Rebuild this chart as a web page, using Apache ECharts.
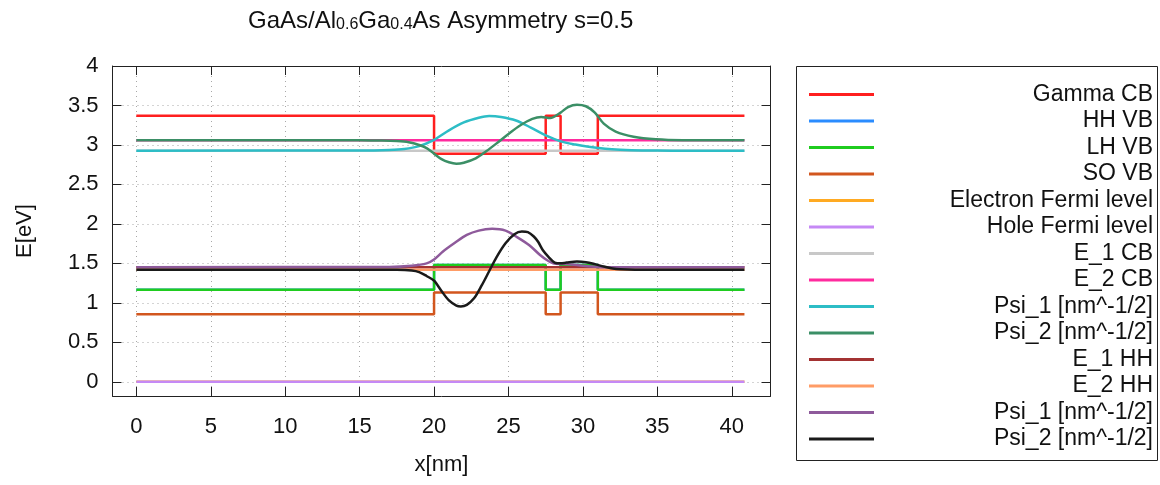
<!DOCTYPE html>
<html>
<head>
<meta charset="utf-8">
<script src="https://cdn.jsdelivr.net/npm/echarts@6/dist/echarts.min.js"></script>
<style>
html,body{margin:0;padding:0;background:#fff;}
#chart{width:1160px;height:485px;}
</style>
</head>
<body>
<div id="chart"></div>
<script>
// ---------- data ----------
const xStart = 0;
const xEnd = 40.85;
const interfaces = [20, 27.5, 28.5, 31];           // barrier|well|barrier|well|barrier
const bandNames = ['Gamma CB', 'HH VB', 'LH VB', 'SO VB'];
const bandBarrier = [3.37, 1.165, 1.165, 0.855];
const bandWell = [2.89, 1.48, 1.48, 1.13];

const levelNamesA = ['Electron Fermi level', 'Hole Fermi level', 'E_1 CB', 'E_2 CB'];
const levelValuesA = [0.0, 0.0, 2.928, 3.058];
const levelNamesB = ['E_1 HH', 'E_2 HH'];
const levelValuesB = [1.452, 1.42];

const psi1CBx = [0, 15, 17, 18, 19, 20, 21, 22, 23, 23.7, 24.5, 25.5, 26.5, 27.5, 28.5, 29.5, 30.5, 31.5, 32.5, 34, 36, 40.85];
const psi1CBy = [2.928, 2.929, 2.936, 2.948, 2.985, 3.065, 3.185, 3.285, 3.345, 3.367, 3.355, 3.31, 3.22, 3.12, 3.045, 3.005, 2.975, 2.952, 2.94, 2.931, 2.928, 2.928];

const psi2CBx = [0, 15, 16.5, 17.5, 18.3, 19, 19.5, 20, 20.5, 21, 21.5, 22, 22.8, 23.5, 24.2, 25, 25.8, 26.6, 27.2, 27.8, 28.5, 29, 29.6, 30.2, 30.8, 31.4, 32.2, 33.4, 34.9, 36.7, 40.85];
const psi2CBy = [3.058, 3.058, 3.056, 3.05, 3.035, 3.0, 2.96, 2.89, 2.82, 2.78, 2.762, 2.775, 2.83, 2.92, 3.02, 3.14, 3.25, 3.33, 3.355, 3.34, 3.41, 3.48, 3.51, 3.49, 3.41, 3.27, 3.17, 3.105, 3.072, 3.06, 3.058];

const psi1HHx = [0, 17, 18.5, 19.5, 20, 20.6, 21.4, 22.2, 23, 23.9, 24.8, 25.6, 26.4, 27.1, 27.6, 28, 28.5, 29, 30, 31, 32, 40.85];
const psi1HHy = [1.452, 1.455, 1.47, 1.50, 1.55, 1.65, 1.76, 1.86, 1.915, 1.937, 1.915, 1.83, 1.73, 1.61, 1.54, 1.50, 1.492, 1.49, 1.47, 1.455, 1.452, 1.452];

const psi2HHx = [0, 17.5, 18.5, 19, 19.5, 20, 20.5, 21, 21.5, 21.8, 22.2, 22.7, 23.2, 23.7, 24.2, 24.8, 25.4, 25.9, 26.3, 26.7, 27.0, 27.3, 27.7, 28.1, 28.5, 28.9, 29.6, 30.2, 30.8, 31.4, 32.0, 32.5, 33.5, 40.85];
const psi2HHy = [1.42, 1.418, 1.41, 1.39, 1.34, 1.28, 1.15, 1.03, 0.965, 0.955, 0.975, 1.06, 1.22, 1.40, 1.58, 1.755, 1.87, 1.903, 1.895, 1.84, 1.77, 1.67, 1.58, 1.51, 1.5, 1.51, 1.523, 1.515, 1.49, 1.46, 1.435, 1.425, 1.42, 1.42];

const xTicks = [0, 5, 10, 15, 20, 25, 30, 35, 40];
const yTicks = [0, 0.5, 1, 1.5, 2, 2.5, 3, 3.5, 4];

// ---------- styles ----------
const colors = {
  'Gamma CB': '#ff1f1f',
  'HH VB': '#2a8cff',
  'LH VB': '#1fcc1f',
  'SO VB': '#d2561e',
  'Electron Fermi level': '#ffaa22',
  'Hole Fermi level': '#c589f5',
  'E_1 CB': '#c8c8c8',
  'E_2 CB': '#ff2b9e',
  'Psi_1 CB': '#2dbdc6',
  'Psi_2 CB': '#3b8f66',
  'E_1 HH': '#a33232',
  'E_2 HH': '#ff9c66',
  'Psi_1 HH': '#8e5a9b',
  'Psi_2 HH': '#1a1a1a'
};
const FONT = '"Liberation Sans", Arial, sans-serif';

function stepData(b, w) {
  const pts = [[xStart, b]];
  let cur = b;
  interfaces.forEach(function (xi) {
    const nxt = (cur === b) ? w : b;
    pts.push([xi, cur]);
    pts.push([xi, nxt]);
    cur = nxt;
  });
  pts.push([xEnd, cur]);
  return pts;
}
function zipXY(xs, ys) { return xs.map(function (x, i) { return [x, ys[i]]; }); }

function mkSeries(name, key, data, smooth) {
  return {
    name: name,
    type: 'line',
    data: data,
    showSymbol: false,
    symbol: 'none',
    smooth: smooth || false,
    lineStyle: { color: colors[key], width: 2.5 },
    itemStyle: { color: colors[key] },
    emphasis: { disabled: true },
    animation: false
  };
}

const series = [];
bandNames.forEach(function (n, i) { series.push(mkSeries(n, n, stepData(bandBarrier[i], bandWell[i]))); });
levelNamesA.forEach(function (n, i) { series.push(mkSeries(n, n, [[xStart, levelValuesA[i]], [xEnd, levelValuesA[i]]])); });
series.push(mkSeries('Psi_1 [nm^-1/2]', 'Psi_1 CB', zipXY(psi1CBx, psi1CBy), 0.3));
series.push(mkSeries('Psi_2 [nm^-1/2]', 'Psi_2 CB', zipXY(psi2CBx, psi2CBy), 0.3));
levelNamesB.forEach(function (n, i) { series.push(mkSeries(n, n, [[xStart, levelValuesB[i]], [xEnd, levelValuesB[i]]])); });
series.push(mkSeries('Psi_1 [nm^-1/2] ', 'Psi_1 HH', zipXY(psi1HHx, psi1HHy), 0.3));
series.push(mkSeries('Psi_2 [nm^-1/2] ', 'Psi_2 HH', zipXY(psi2HHx, psi2HHy), 0.3));

const gridLine = { show: true, lineStyle: { color: '#a8a8a8', type: [1, 4], width: 1 } };
const axisLineStyle = { show: true, onZero: false, lineStyle: { color: '#222', width: 1 } };

const chart = echarts.init(document.getElementById('chart'), null, { renderer: 'canvas' });
chart.setOption({
  backgroundColor: '#fff',
  animation: false,
  title: {
    text: '{n|GaAs/Al}{s|0.6}{n|Ga}{s|0.4}{n|As Asymmetry s=0.5}',
    left: 248,
    top: 8,
    padding: 0,
    textStyle: {
      fontWeight: 'normal',
      rich: {
        n: { fontFamily: FONT, fontSize: 24, fontWeight: 'normal', color: '#111', lineHeight: 25, verticalAlign: 'bottom' },
        s: { fontFamily: FONT, fontSize: 16, fontWeight: 'normal', color: '#111', lineHeight: 17, padding: [9, 0, 0, 0], verticalAlign: 'bottom' }
      }
    }
  },
  legend: {
    orient: 'vertical',
    left: 809,
    top: 83,
    padding: 0,
    itemGap: 3.5,
    itemWidth: 65,
    itemHeight: 3,
    icon: 'rect',
    selectedMode: false,
    formatter: function (name) { return '{r|' + name.trim() + '}'; },
    textStyle: {
      rich: {
        r: { fontFamily: FONT, fontSize: 23, color: '#111', width: 274, align: 'right', lineHeight: 22 }
      }
    }
  },
  graphic: [{
    type: 'rect',
    shape: { x: 796.5, y: 66.5, width: 361, height: 394 },
    style: { fill: 'none', stroke: '#222', lineWidth: 1 },
    silent: true,
    z: -1
  }],
  grid: { left: 112.5, right: 389.5, top: 66, bottom: 89, containLabel: false },
  xAxis: [{
    type: 'value', min: -1.6, max: 42.6, position: 'bottom',
    name: 'x[nm]', nameLocation: 'middle', nameGap: 58,
    nameTextStyle: { fontFamily: FONT, fontSize: 22, color: '#111' },
    axisLine: axisLineStyle,
    axisTick: { show: true, inside: true, length: 9, customValues: xTicks, lineStyle: { color: '#222' } },
    axisLabel: { show: true, customValues: xTicks, margin: 20, fontFamily: FONT, fontSize: 22, color: '#111' },
    splitLine: gridLine
  }, {
    type: 'value', min: -1.6, max: 42.6, position: 'top',
    axisLine: axisLineStyle,
    axisTick: { show: true, inside: true, length: 9, customValues: xTicks, lineStyle: { color: '#222' } },
    axisLabel: { show: false, customValues: xTicks },
    splitLine: { show: false }
  }],
  yAxis: [{
    type: 'value', min: -0.18, max: 4, position: 'left',
    name: 'E[eV]', nameLocation: 'middle', nameGap: 77, nameRotate: 90,
    nameTextStyle: { fontFamily: FONT, fontSize: 22, color: '#111' },
    axisLine: axisLineStyle,
    axisTick: { show: true, inside: true, length: 9, customValues: yTicks, lineStyle: { color: '#222' } },
    axisLabel: { show: true, customValues: yTicks, margin: 14, fontFamily: FONT, fontSize: 22, color: '#111' },
    splitLine: gridLine
  }, {
    type: 'value', min: -0.18, max: 4, position: 'right',
    axisLine: axisLineStyle,
    axisTick: { show: true, inside: true, length: 9, customValues: yTicks, lineStyle: { color: '#222' } },
    axisLabel: { show: false, customValues: yTicks },
    splitLine: { show: false }
  }],
  series: series
});
</script>
</body>
</html>
